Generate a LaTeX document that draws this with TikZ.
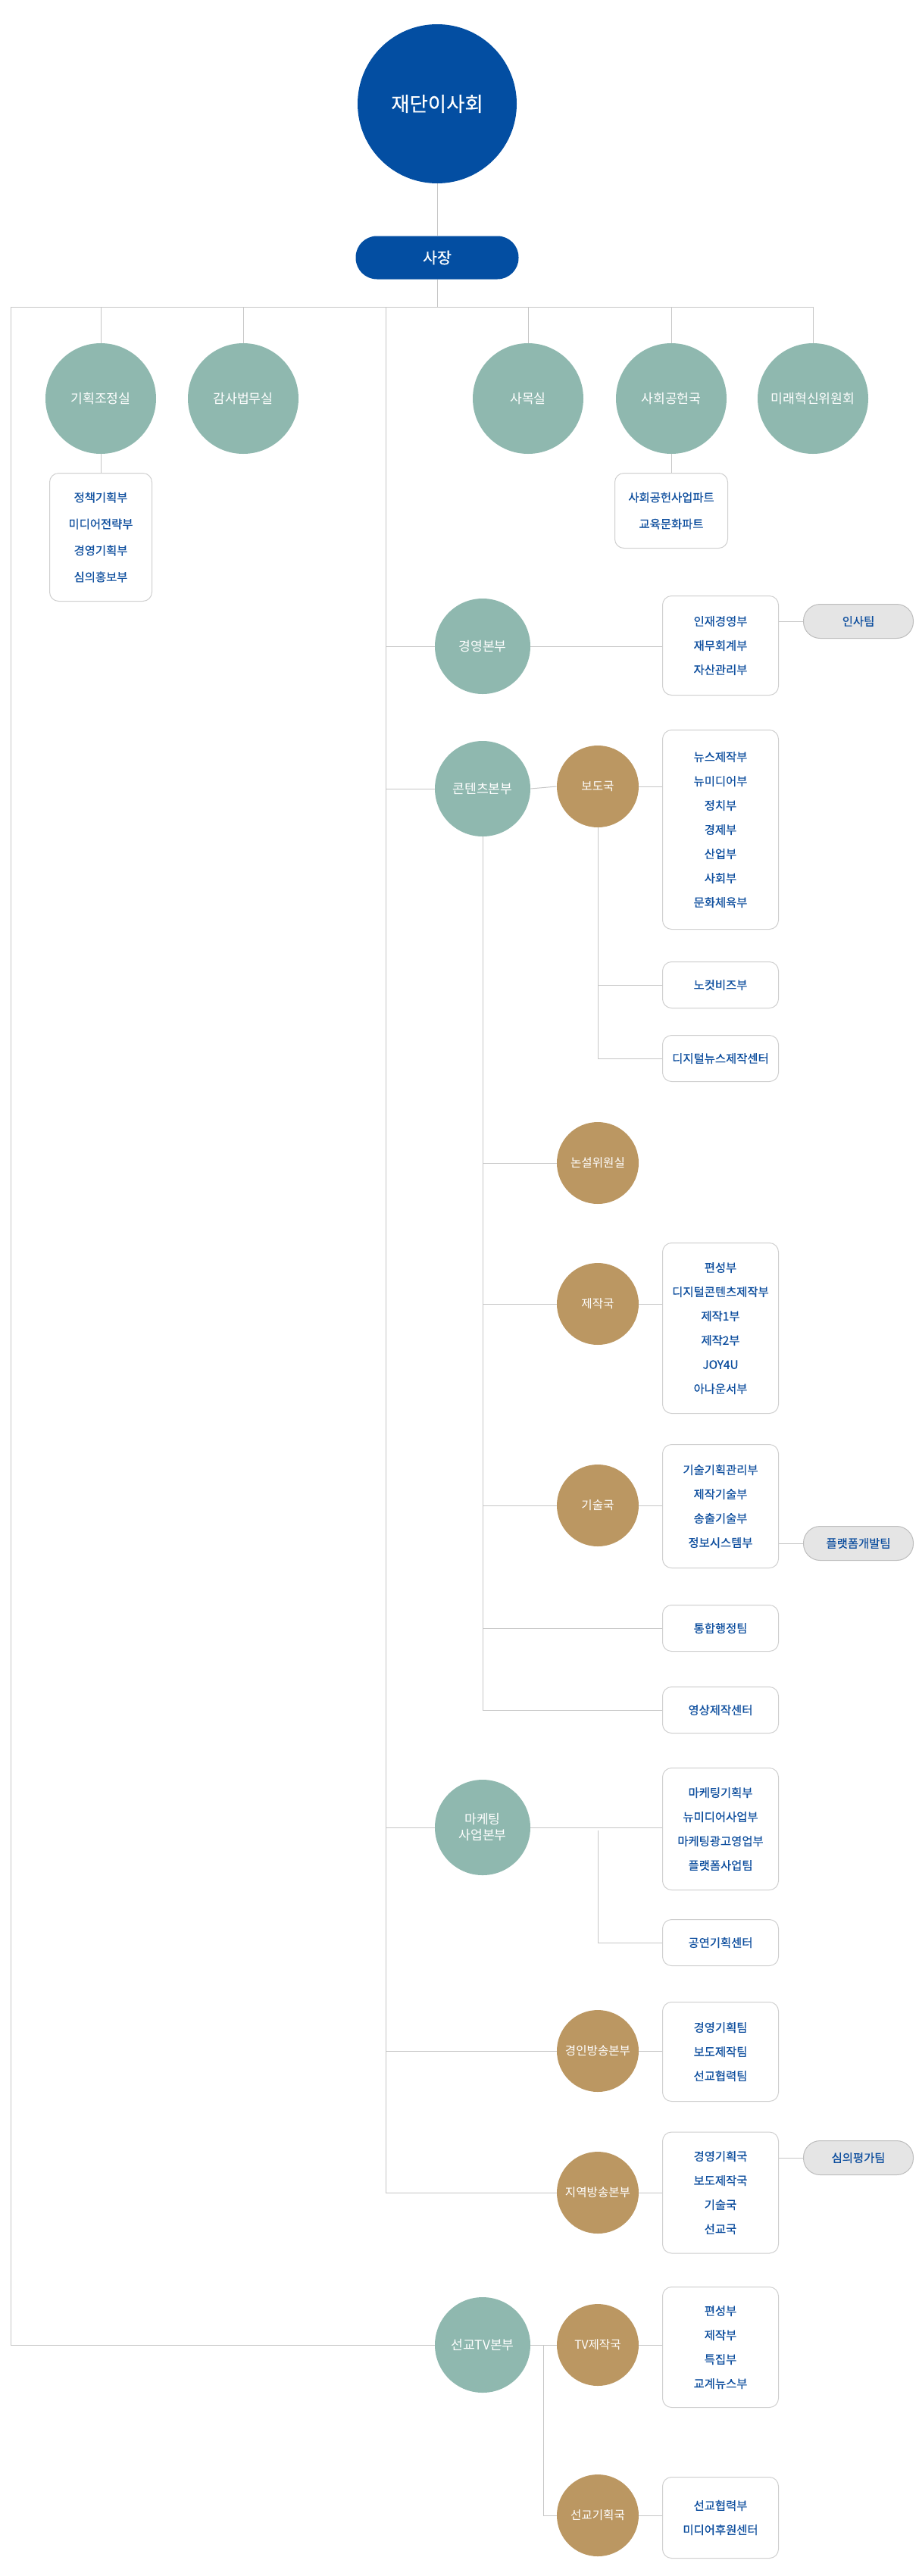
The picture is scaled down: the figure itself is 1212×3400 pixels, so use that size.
\documentclass[tikz,border=0pt]{standalone}
\usepackage{fontspec}
\setmainfont{Noto Sans CJK KR}
\newfontfamily\medfont{Noto Sans CJK KR}[FakeBold=0.5]
\usepackage{tikz}
\usetikzlibrary{positioning}
\definecolor{orgnavy}{HTML}{034EA2}
\definecolor{orgteal}{HTML}{8FB8AF}
\definecolor{orggold}{HTML}{BB9762}
\definecolor{deptblue}{HTML}{0D4E9E}
\definecolor{boxline}{HTML}{CFCFCF}
\definecolor{pillgray}{HTML}{E5E5E5}
\definecolor{pillline}{HTML}{BDBDBD}
\definecolor{linegray}{HTML}{C6C6C6}
\tikzset{
  topcircle/.style={circle, fill=orgnavy, text=white, minimum size=105pt, inner sep=0pt, font=\medfont\fontsize{13.2}{16}\selectfont},
  headpill/.style={rectangle, rounded corners=14pt, fill=orgnavy, text=white, minimum width=107.5pt, minimum height=28.5pt, font=\medfont\fontsize{10.3}{12}\selectfont},
  office/.style={circle, fill=orgteal, text=white, minimum size=73pt, inner sep=0pt, align=center, font=\fontsize{8.6}{10.5}\selectfont},
  division/.style={office, minimum size=63pt},
  bureau/.style={circle, fill=orggold, text=white, minimum size=54pt, inner sep=0pt, font=\fontsize{7.8}{9}\selectfont},
  deptbox/.style={draw=boxline, line width=0.5pt, rounded corners=6pt, fill=white, minimum width=76.5pt, inner sep=0pt,
                  align=center, text=deptblue, font=\medfont\fontsize{7.7}{16}\selectfont},
  teampill/.style={draw=pillline, line width=0.5pt, fill=pillgray, rounded corners=11pt, minimum width=72.5pt, minimum height=22.5pt,
                   text=deptblue, font=\medfont\fontsize{7.7}{9}\selectfont},
  link/.style={draw=linegray, line width=0.5pt},
}
\begin{document}
\begin{tikzpicture}[x=0.5pt, y=-0.5pt]
  \useasboundingbox (0,0) rectangle (1212,3400);

  % board and president
  \node[topcircle] (board) at (577,137) {재단이사회};
  \node[headpill] (ceo) at (577,340) {사장};
  \coordinate (bar) at (577,405);
  \coordinate (barleft) at (14,405);
  \coordinate (barright) at (1073,405);
  \coordinate (trunk) at (509,405);

  % offices under the president
  \node[office] (planning) at (133,526) {기획조정실};
  \node[office] (audit) at (321,526) {감사법무실};
  \node[office] (chaplain) at (697,526) {사목실};
  \node[office] (social) at (886,526) {사회공헌국};
  \node[office] (future) at (1073,526) {미래혁신위원회};
  \node[deptbox, minimum width=67.5pt, minimum height=84.5pt, font=\medfont\fontsize{7.7}{17.5}\selectfont] (planbox) at (133,709) {정책기획부\\미디어전략부\\경영기획부\\심의홍보부};
  \node[deptbox, minimum width=74.5pt, minimum height=49.5pt, font=\medfont\fontsize{7.7}{17.5}\selectfont] (socialbox) at (886,674) {사회공헌사업파트\\교육문화파트};

  % divisions
  \node[division] (mgmt) at (637,853) {경영본부};
  \node[deptbox, minimum height=65.5pt] (mgmtbox) at (951,852) {인재경영부\\재무회계부\\자산관리부};
  \node[teampill] (hrteam) at (1133,820) {인사팀};

  \node[division] (content) at (637,1041) {콘텐츠본부};
  \node[bureau] (news) at (789,1038) {보도국};
  \node[deptbox, minimum height=131.5pt] (newsbox) at (951,1095) {뉴스제작부\\뉴미디어부\\정치부\\경제부\\산업부\\사회부\\문화체육부};
  \node[deptbox, minimum height=30.5pt] (nocut) at (951,1300) {노컷비즈부};
  \node[deptbox, minimum height=30.5pt] (digital) at (951,1397) {디지털뉴스제작센터};
  \node[bureau] (editorial) at (789,1535) {논설위원실};
  \node[bureau] (prod) at (789,1721) {제작국};
  \node[deptbox, minimum height=112.5pt] (prodbox) at (951,1753) {편성부\\디지털콘텐츠제작부\\제작1부\\제작2부\\JOY4U\\아나운서부};
  \node[bureau] (tech) at (789,1987) {기술국};
  \node[deptbox, minimum height=81.5pt] (techbox) at (951,1988) {기술기획관리부\\제작기술부\\송출기술부\\정보시스템부};
  \node[teampill] (platform) at (1133,2037) {플랫폼개발팀};
  \node[deptbox, minimum height=30.5pt] (admin) at (951,2149) {통합행정팀};
  \node[deptbox, minimum height=30.5pt] (video) at (951,2257) {영상제작센터};

  \node[division] (marketing) at (637,2412) {마케팅\\사업본부};
  \node[deptbox, minimum height=80.5pt] (mktbox) at (951,2414) {마케팅기획부\\뉴미디어사업부\\마케팅광고영업부\\플랫폼사업팀};
  \node[deptbox, minimum height=30.5pt] (concert) at (951,2564) {공연기획센터};
  \coordinate (mktjoint) at (789,2416);

  \node[bureau] (gyeongin) at (789,2707) {경인방송본부};
  \node[deptbox, minimum height=65.5pt] (gibox) at (951,2708) {경영기획팀\\보도제작팀\\선교협력팀};
  \node[bureau] (regional) at (789,2894) {지역방송본부};
  \node[deptbox, minimum height=80pt] (regbox) at (951,2894) {경영기획국\\보도제작국\\기술국\\선교국};
  \node[teampill] (review) at (1133,2848) {심의평가팀};

  \node[division] (mission) at (637,3095) {선교TV본부};
  \node[bureau] (tvprod) at (789,3095) {TV제작국};
  \node[deptbox, minimum height=79.5pt] (tvbox) at (951,3098) {편성부\\제작부\\특집부\\교계뉴스부};
  \node[bureau] (mplan) at (789,3320) {선교기획국};
  \node[deptbox, minimum height=53.5pt] (mpbox) at (951,3323) {선교협력부\\미디어후원센터};
  \coordinate (msjoint) at (717,3095);

  % connectors
  \draw[link] (board) -- (ceo);
  \draw[link] (ceo) -- (bar);
  \draw[link] (barleft) -- (barright);
  \foreach \n in {planning,audit,chaplain,social,future}
    \draw[link] (\n.north) -- (\n.north |- bar);
  \draw[link] (planning) -- (planbox);
  \draw[link] (social) -- (socialbox);

  \draw[link] (barleft) |- (mission.west);
  \draw[link] (trunk) |- (regional.west);
  \foreach \n in {mgmt,content,marketing,gyeongin}
    \draw[link] (\n.west) -- (\n.west -| trunk);

  \draw[link] (mgmt.east) -- (mgmt.east -| mgmtbox.west);
  \draw[link] (hrteam.west) -- (hrteam.west -| mgmtbox.east);

  \draw[link] (content.east) -- (news.west);
  \draw[link] (news.east) -- (news.east -| newsbox.west);
  \draw[link] (news.south) |- (digital.west);
  \draw[link] (nocut.west) -- (nocut.west -| news.south);
  \draw[link] (content.south) |- (video.west);
  \foreach \n in {editorial,prod,tech,admin}
    \draw[link] (\n.west) -- (\n.west -| content.south);
  \draw[link] (prod.east) -- (prod.east -| prodbox.west);
  \draw[link] (tech.east) -- (tech.east -| techbox.west);
  \draw[link] (platform.west) -- (platform.west -| techbox.east);

  \draw[link] (marketing.east) -- (marketing.east -| mktbox.west);
  \draw[link] (mktjoint) |- (concert.west);

  \draw[link] (gyeongin.east) -- (gyeongin.east -| gibox.west);
  \draw[link] (regional.east) -- (regional.east -| regbox.west);
  \draw[link] (review.west) -- (review.west -| regbox.east);

  \draw[link] (mission.east) -- (tvprod.west);
  \draw[link] (msjoint) |- (mplan.west);
  \draw[link] (tvprod.east) -- (tvprod.east -| tvbox.west);
  \draw[link] (mplan.east) -- (mplan.east -| mpbox.west);
\end{tikzpicture}
\end{document}
